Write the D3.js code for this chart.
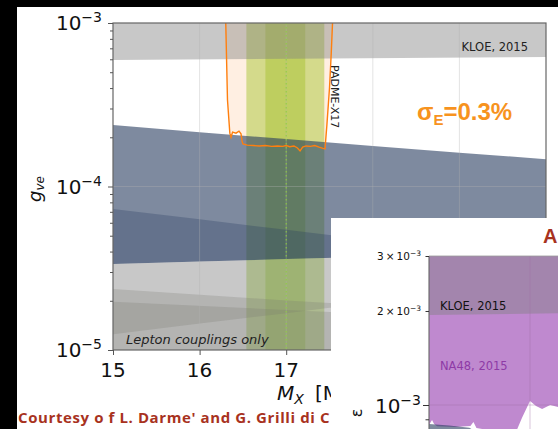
<!DOCTYPE html>
<html><head><meta charset="utf-8">
<script src="https://cdn.jsdelivr.net/npm/d3@7"></script>
<style>body{margin:0;background:#000;overflow:hidden} svg{display:block}</style>
</head><body>
<svg id="c" width="558" height="429"></svg>
<script>
// ---------- data (main plot: mass in MeV, coupling g_ve) ----------
const massTicks = [15, 16, 17];
const gExpTicks = [-5, -4, -3];
const gridMass = [16, 17, 18, 19];

const kloeMass = [15, 20];
const kloeLow  = [5.94e-4, 6.2e-4];

const slateMass   = [15, 16, 17, 18, 19, 20];
const slateATop   = [2.38e-4, 2.15e-4, 1.95e-4, 1.77e-4, 1.61e-4, 1.47e-4];
const slateBTop   = [7.28e-5, 6.3e-5, 5.43e-5, 4.69e-5, 4.2e-5, 4.05e-5];
const slateBottom = [3.36e-5, 3.48e-5, 3.6e-5, 3.72e-5, 3.84e-5, 3.96e-5];

const pMass = [15, 16, 17, 17.5, 20];
const pTop  = [2.36e-5, 2.18e-5, 2.01e-5, 1.94e-5, 1.75e-5];
const pLow  = [1.25e-5, 1.45e-5, 1.68e-5, 1.81e-5, 1.7e-5];
const qMass = [15, 17.5, 20];
const qTop  = [1.97e-5, 1.71e-5, 1.5e-5];

const greenOuter = [16.54, 17.44];
const greenInner = [16.76, 17.22];
const x17Mass = 17.0;

const padmeMass = [16.302, 16.322, 16.349, 16.363, 16.381, 16.42, 16.455, 16.478, 16.49, 16.50,
  16.55, 16.62, 16.69, 16.76, 16.83, 16.90, 16.96, 17.0, 17.04, 17.09, 17.13, 17.16, 17.19, 17.23,
  17.28, 17.33, 17.38, 17.425, 17.448, 17.47, 17.50, 17.52, 17.535];
const padmeG = [1e-3, 3.38e-4, 2.12e-4, 2.0e-4, 2.15e-4, 2.12e-4, 2.18e-4, 2.1e-4, 1.9e-4, 1.82e-4,
  1.79e-4, 1.78e-4, 1.77e-4, 1.78e-4, 1.76e-4, 1.77e-4, 1.76e-4, 1.78e-4, 1.75e-4, 1.77e-4, 1.72e-4, 1.65e-4, 1.74e-4, 1.77e-4,
  1.76e-4, 1.78e-4, 1.74e-4, 1.71e-4, 1.70e-4, 2.38e-4, 4.0e-4, 6.5e-4, 1e-3];

// ---------- data (inset: mass, epsilon) ----------
const insetTickVals = [3e-3, 2e-3, 1e-3];
const insetTickCoef = ["3\u2009\u00d7\u2009", "2\u2009\u00d7\u2009", ""];
const insetTickExp  = ["\u22123", "\u22123", "\u22123"];
const insetMinor = [9e-4, 2e-3, 3e-3];
const insetGridMass = [17];
const insetKloeMass = [16, 17.4];
const insetKloeLow  = [1.94e-3, 1.97e-3];
const na48Mass = [16.0, 16.03, 16.05, 16.08, 16.26, 16.41, 16.44, 16.47, 16.70, 16.87, 16.92, 17.0, 17.06, 17.12, 17.20, 17.28, 17.40];
const na48Low  = [8.63e-4, 8.95e-4, 8.7e-4, 8.55e-4, 8.5e-4, 8.57e-4, 8.82e-4, 8.44e-4, 8.19e-4, 8.32e-4, 9.09e-4, 1.03e-3, 9.93e-4, 9.71e-4, 1.0e-3, 9.85e-4, 9.9e-4];
const insetSlateMass = [16.0, 16.2, 16.4, 16.5];
const insetSlateTop  = [8.7e-4, 8.6e-4, 8.45e-4, 8.1e-4];

// ---------- drawing ----------
const svg = d3.select('#c');
svg.append('rect').attr('x', 17).attr('y', 7).attr('width', 541).attr('height', 422).attr('fill', '#fff');

const x = d3.scaleLinear().domain([15, 20]).range([113, 546]);
const y = d3.scaleLog().domain([1e-5, 1e-3]).range([350, 23]);

const defs = svg.append('defs');
defs.append('clipPath').attr('id', 'mainClip').append('rect')
  .attr('x', 113).attr('y', 23).attr('width', 433).attr('height', 327);
defs.append('clipPath').attr('id', 'leftClip').append('rect')
  .attr('x', 0).attr('y', 0).attr('width', 331).attr('height', 429);
const g = svg.append('g').attr('clip-path', 'url(#mainClip)');

function band(parent, xs, ys, mass, lo, hi, fill, op) {
  const d = mass.map((m, i) => ({ m, lo: lo[i], hi: hi[i] }));
  parent.append('path').datum(d)
    .attr('d', d3.area().x(p => xs(p.m)).y0(p => ys(p.lo)).y1(p => ys(p.hi)))
    .attr('fill', fill).attr('fill-opacity', op);
}
const rep = (v, n) => Array(n).fill(v);

// green X17 bands
band(g, x, y, greenOuter, rep(1e-5, 2), rep(1e-3, 2), '#9acd32', 0.48);
band(g, x, y, greenInner, rep(1e-5, 2), rep(1e-3, 2), '#9acd32', 0.48);
// PADME shaded region
band(g, x, y, padmeMass, padmeG, rep(1e-3, padmeMass.length), '#ff7f0e', 0.12);
// KLOE
band(g, x, y, kloeMass, kloeLow, rep(1e-3, 2), '#808080', 0.43);
// slate bands
band(g, x, y, slateMass, slateBottom, slateATop, '#283c5f', 0.6);
band(g, x, y, slateMass, slateBottom, slateBTop, '#283c5f', 0.3);
// lower gray bands
band(g, x, y, slateMass, rep(1e-5, slateMass.length), slateBottom, '#808080', 0.43);
band(g, x, y, pMass, pLow, pTop, '#78786e', 0.25);
band(g, x, y, qMass, rep(1e-5, qMass.length), qTop, '#78786e', 0.25);

// grid
g.selectAll('.vg').data(gridMass).join('line')
  .attr('x1', d => x(d)).attr('x2', d => x(d)).attr('y1', 23).attr('y2', 350)
  .attr('stroke', '#b0b0b0').attr('stroke-opacity', 0.45).attr('stroke-width', 0.8);
g.append('line').attr('x1', 113).attr('x2', 546).attr('y1', y(1e-4)).attr('y2', y(1e-4))
  .attr('stroke', '#b0b0b0').attr('stroke-opacity', 0.45).attr('stroke-width', 0.8);

// X17 dotted line
g.append('line').attr('x1', x(x17Mass)).attr('x2', x(x17Mass)).attr('y1', 23).attr('y2', 350)
  .attr('stroke', '#8fd13a').attr('stroke-width', 1).attr('stroke-dasharray', '1.5,2.5');

// PADME curve
g.append('path').datum(padmeMass.map((m, i) => [m, padmeG[i]]))
  .attr('d', d3.line().x(p => x(p[0])).y(p => y(p[1])))
  .attr('fill', 'none').attr('stroke', '#ff7f0e').attr('stroke-width', 1.4);

// frame
svg.append('rect').attr('x', 113).attr('y', 23).attr('width', 433).attr('height', 327)
  .attr('fill', 'none').attr('stroke', '#666').attr('stroke-width', 1.2);

// axes ticks
const yMajor = gExpTicks.map(e => Math.pow(10, e));
const yMinor = y.ticks().filter(v => !yMajor.some(m => Math.abs(m - v) / m < 1e-6));
const axL = svg.append('g').attr('transform', 'translate(113,0)')
  .call(d3.axisLeft(y).tickValues(yMajor).tickSize(5).tickSizeOuter(0).tickFormat(''));
axL.select('.domain').remove();
const axLm = svg.append('g').attr('transform', 'translate(113,0)')
  .call(d3.axisLeft(y).tickValues(yMinor).tickSize(3).tickSizeOuter(0).tickFormat(''));
axLm.select('.domain').remove();
const axB = svg.append('g').attr('transform', 'translate(0,350)')
  .call(d3.axisBottom(x).tickValues(massTicks).tickSize(5).tickSizeOuter(0).tickFormat(''));
axB.select('.domain').remove();
svg.selectAll('.tick line').attr('stroke', '#555');

const font = 'DejaVu Sans, sans-serif';
// y tick labels
gExpTicks.forEach((e, i) => {
  const t = svg.append('text').attr('x', 102).attr('y', y(yMajor[i]) + 7)
    .attr('text-anchor', 'end').attr('font-family', font).attr('font-size', 20).attr('fill', '#111');
  t.append('tspan').text('10');
  t.append('tspan').attr('font-size', 14).attr('dy', -8).text('\u2212' + Math.abs(e));
});
// x tick labels
svg.selectAll('.xl').data(massTicks).join('text')
  .attr('x', d => x(d)).attr('y', 377).attr('text-anchor', 'middle')
  .attr('font-family', font).attr('font-size', 20).attr('fill', '#111').text(d => d);

// axis labels
const yl = svg.append('text').attr('transform', 'translate(40.5,202) rotate(-90)')
  .attr('font-family', font).attr('fill', '#111');
yl.append('tspan').attr('font-size', 18).attr('font-style', 'italic').text('g');
yl.append('tspan').attr('font-size', 12).attr('font-style', 'italic').attr('dy', 3.5).text('ve');
const xlab = svg.append('text').attr('y', 400).attr('font-family', font).attr('fill', '#111')
  .attr('clip-path', 'url(#leftClip)');
xlab.append('tspan').attr('x', 277).attr('font-size', 20).attr('font-style', 'italic').text('M');
xlab.append('tspan').attr('font-size', 14).attr('font-style', 'italic').attr('dy', 4).text('X');
xlab.append('tspan').attr('x', 315).attr('dy', -4).attr('font-size', 20).text('[M');

// annotations
svg.append('text').attr('x', 528).attr('y', 51).attr('text-anchor', 'end')
  .attr('font-family', font).attr('font-size', 11.5).attr('fill', '#222').text('KLOE, 2015');
svg.append('text').attr('transform', 'translate(331,65) rotate(90)')
  .attr('font-family', font).attr('font-size', 11).attr('fill', '#222').text('PADME-X17');
const sg = svg.append('text').attr('x', 417).attr('y', 120)
  .attr('font-family', 'Liberation Sans, Arial, sans-serif').attr('font-weight', 'bold')
  .attr('font-size', 24).attr('fill', '#f7931e');
sg.append('tspan').text('\u03c3');
sg.append('tspan').attr('font-size', 15).attr('dy', 5).text('E');
sg.append('tspan').attr('dy', -5).text('=0.3%');
svg.append('text').attr('x', 126).attr('y', 344)
  .attr('font-family', font).attr('font-style', 'italic').attr('font-size', 13).attr('fill', '#222')
  .text('Lepton couplings only');

// courtesy line (cut by the inset, as in the slide)
svg.append('text').attr('x', 18).attr('y', 423).attr('clip-path', 'url(#leftClip)')
  .attr('font-family', 'Open Sans, sans-serif').attr('font-weight', 'bold')
  .attr('font-size', 15).attr('letter-spacing', 0.6).attr('fill', '#a8321e')
  .text("Courtesy o f L. Darme' and G. Grilli di C");

// ---------- inset ----------
svg.append('rect').attr('x', 331).attr('y', 218).attr('width', 227).attr('height', 211).attr('fill', '#fff');
const xi = d3.scaleLinear().domain([16, 18]).range([429, 631]);
const yi = d3.scaleLog().domain([1e-3, 3e-3]).range([405, 256]);
defs.append('clipPath').attr('id', 'inClip').append('rect')
  .attr('x', 429).attr('y', 256).attr('width', 129).attr('height', 173);
const gi = svg.append('g').attr('clip-path', 'url(#inClip)');

band(gi, xi, yi, na48Mass, na48Low, rep(3e-3, na48Mass.length), '#bf89cf', 1);
band(gi, xi, yi, insetKloeMass, insetKloeLow, rep(3e-3, 2), '#808080', 0.43);
band(gi, xi, yi, insetSlateMass, rep(7e-4, insetSlateMass.length), insetSlateTop, '#283c5f', 0.6);

gi.selectAll('.ivg').data(insetGridMass).join('line')
  .attr('x1', d => xi(d)).attr('x2', d => xi(d)).attr('y1', 256).attr('y2', 429)
  .attr('stroke', '#a070a8').attr('stroke-opacity', 0.5).attr('stroke-width', 0.8);
gi.append('line').attr('x1', 429).attr('x2', 558).attr('y1', yi(1e-3)).attr('y2', yi(1e-3))
  .attr('stroke', '#a070a8').attr('stroke-opacity', 0.5).attr('stroke-width', 0.8);

// inset spines
svg.append('line').attr('x1', 429).attr('x2', 429).attr('y1', 256).attr('y2', 429).attr('stroke', '#666').attr('stroke-width', 1.1);
svg.append('line').attr('x1', 429).attr('x2', 558).attr('y1', 256).attr('y2', 256).attr('stroke', '#999').attr('stroke-width', 0.8);

const aiM = svg.append('g').attr('transform', 'translate(429,0)')
  .call(d3.axisLeft(yi).tickValues([1e-3]).tickSize(6).tickSizeOuter(0).tickFormat(''));
aiM.select('.domain').remove();
const aim = svg.append('g').attr('transform', 'translate(429,0)')
  .call(d3.axisLeft(yi).tickValues(insetMinor).tickSize(3.5).tickSizeOuter(0).tickFormat(''));
aim.select('.domain').remove();
aiM.selectAll('line').attr('stroke', '#333');
aim.selectAll('line').attr('stroke', '#333');

insetTickVals.forEach((v, i) => {
  const big = insetTickCoef[i] === '';
  const t = svg.append('text').attr('x', 421).attr('y', yi(v) + (big ? 7.5 : 4))
    .attr('text-anchor', 'end').attr('font-family', font).attr('font-size', big ? 20 : 10.5).attr('fill', '#111');
  t.append('tspan').text(insetTickCoef[i] + '10');
  t.append('tspan').attr('font-size', big ? 14 : 7.5).attr('dy', big ? -8 : -4).text(insetTickExp[i]);
});

svg.append('text').attr('transform', 'translate(362,413) rotate(-90)').attr('text-anchor', 'middle')
  .attr('font-family', font).attr('font-size', 16).attr('fill', '#111').text('\u03b5');

svg.append('text').attr('x', 440).attr('y', 310)
  .attr('font-family', font).attr('font-size', 11.5).attr('fill', '#111').text('KLOE, 2015');
svg.append('text').attr('x', 440).attr('y', 370)
  .attr('font-family', font).attr('font-size', 11.5).attr('fill', '#8e3aa6').text('NA48, 2015');
svg.append('text').attr('x', 543).attr('y', 243)
  .attr('font-family', 'Liberation Sans, Arial, sans-serif').attr('font-weight', 'bold')
  .attr('font-size', 20).attr('fill', '#a8321e').text('A');
</script>
</body></html>
